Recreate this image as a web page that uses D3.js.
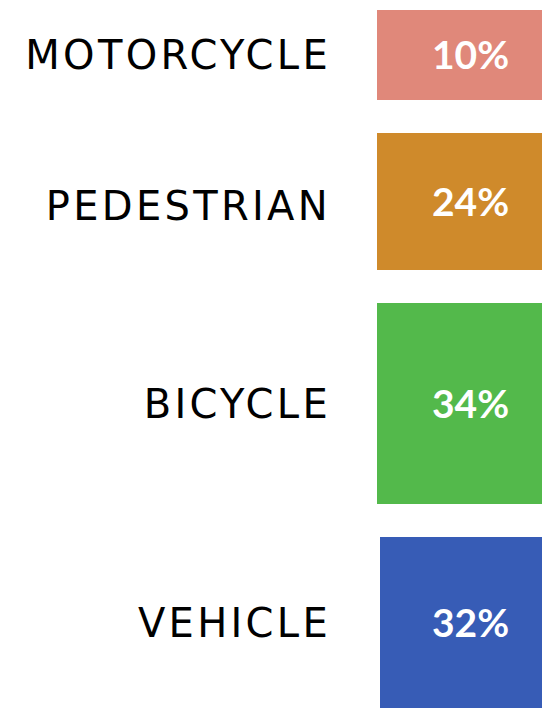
<!DOCTYPE html>
<html>
<head>
<meta charset="utf-8">
<script src="https://cdn.jsdelivr.net/npm/d3@7"></script>
<style>
  html, body { margin: 0; padding: 0; background: #fff; overflow: hidden; }
  svg { display: block; }
  .cat-label { font-family: "DejaVu Sans", sans-serif; font-size: 40px; fill: #000; letter-spacing: 3.3px; }
  .pct-label { font-family: Lato, "DejaVu Sans", sans-serif; font-weight: 700; font-size: 39px; fill: #fff; }
</style>
</head>
<body>
<div id="chart"></div>
<script>
(function () {
  'use strict';

  // ── Data ────────────────────────────────────────────────────────────────
  const categories = ['MOTORCYCLE', 'PEDESTRIAN', 'BICYCLE', 'VEHICLE'];
  const shares     = [10, 24, 34, 32];
  const colors     = ['#e0887a', '#cf8a2b', '#53b94b', '#375cb6'];

  const W = 542, H = 708;
  const barX = 377, barW = W - barX;
  const top0 = 10, gap = 33;

  const svg = d3.select('#chart').append('svg')
    .attr('width', W)
    .attr('height', H);

  // bar height is not proportional to share in the original, so use a piecewise scale
  const hScale = d3.scaleLinear()
    .domain([10, 24, 34])
    .range([90, 137, 201]);

  const color = d3.scaleOrdinal().domain(categories).range(colors);

  // stack the blocks top to bottom
  const rows = [];
  let y = top0;
  categories.forEach((c, i) => {
    const h = hScale(shares[i]);
    rows.push({ cat: c, value: shares[i], y: y, h: h });
    y += h + gap;
  });

  const g = svg.selectAll('.row')
    .data(rows)
    .enter()
    .append('g')
    .attr('class', 'row');

  g.append('rect')
    .attr('x', d => barX + (d.cat === 'VEHICLE' ? 3 : 0))
    .attr('y', d => d.y)
    .attr('width', d => barW)
    .attr('height', d => d.h)
    .attr('fill', d => color(d.cat));

  // visible centre of each block (last one runs off the bottom)
  const mid = d => (d.y + Math.min(d.y + d.h, H)) / 2;

  g.append('text')
    .attr('class', 'cat-label')
    .attr('x', 331)
    .attr('y', d => mid(d) + (d.cat === 'PEDESTRIAN' ? 4 : 0))
    .attr('dy', '0.36em')
    .attr('text-anchor', 'end')
    .text(d => d.cat);

  g.append('text')
    .attr('class', 'pct-label')
    .attr('x', 432)
    .attr('y', mid)
    .attr('dy', '0.36em')
    .text(d => d.value + '%');
})();
</script>
</body>
</html>
